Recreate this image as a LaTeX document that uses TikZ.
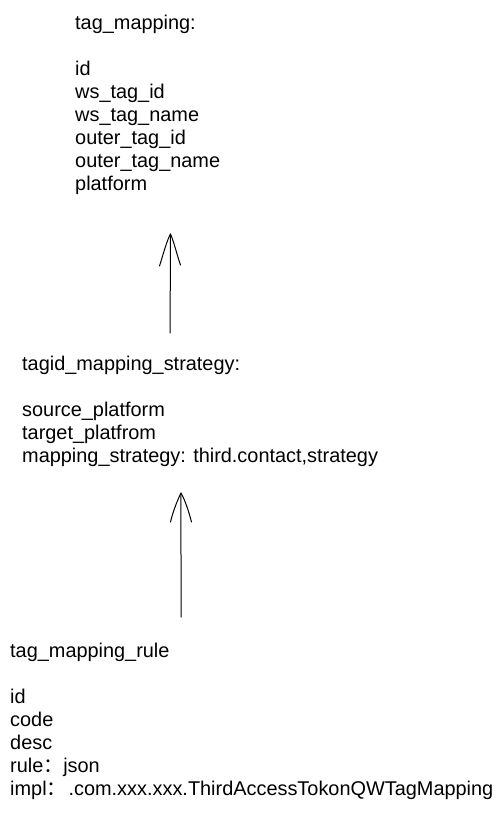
\documentclass[tikz,border=0pt]{standalone}
\usepackage{fontspec}
\setmainfont{Liberation Sans}
\newfontfamily\cjkfont{Noto Sans CJK SC}
\begin{document}
\begin{tikzpicture}[x=1pt,y=-1pt,
  block/.style={anchor=base west,inner sep=0pt,align=left,
    font=\fontsize{19.9}{22.9}\selectfont},
  hand/.style={line width=1pt,black,line cap=round,line join=round}]
\useasboundingbox[fill=white] (0,0) rectangle (503,833);
\node[block] (mapping) at (75,190) {tag\_mapping:\\[22.9pt]id\\ws\_tag\_id\\ws\_tag\_name\\outer\_tag\_id\\outer\_tag\_name\\platform};
\node[block] (strategy) at (22,462) {tagid\_mapping\_strategy:\\[22.9pt]source\_platform\\target\_platfrom\\mapping\_strategy: third.contact,strategy};
\node[block] (rule) at (10,795) {tag\_mapping\_rule\\[22.9pt]id\\code\\desc\\rule{\cjkfont ：}json\\impl{\cjkfont ：}\hspace{2pt}.com.xxx.xxx.ThirdAccessTokonQWTagMapping};
% arrow 1
\coordinate (a1s) at (170,333);
\coordinate (a1t) at (170.5,234);
\draw[hand] (a1s) .. controls (170.5,300) and (170,260) .. (a1t);
\draw[hand] (159.5,266) .. controls (163,255) and (167,240) .. (a1t) .. controls (174,242) and (177,255) .. (180.5,265);
% arrow 2
\coordinate (a2s) at (181,617);
\coordinate (a2t) at (181,493);
\draw[hand] (a2s) .. controls (181.5,580) and (180.5,530) .. (a2t);
\draw[hand] (170.5,522) .. controls (173,511) and (178,499) .. (a2t) .. controls (185,500) and (189,512) .. (191.5,522);
\end{tikzpicture}
\end{document}
